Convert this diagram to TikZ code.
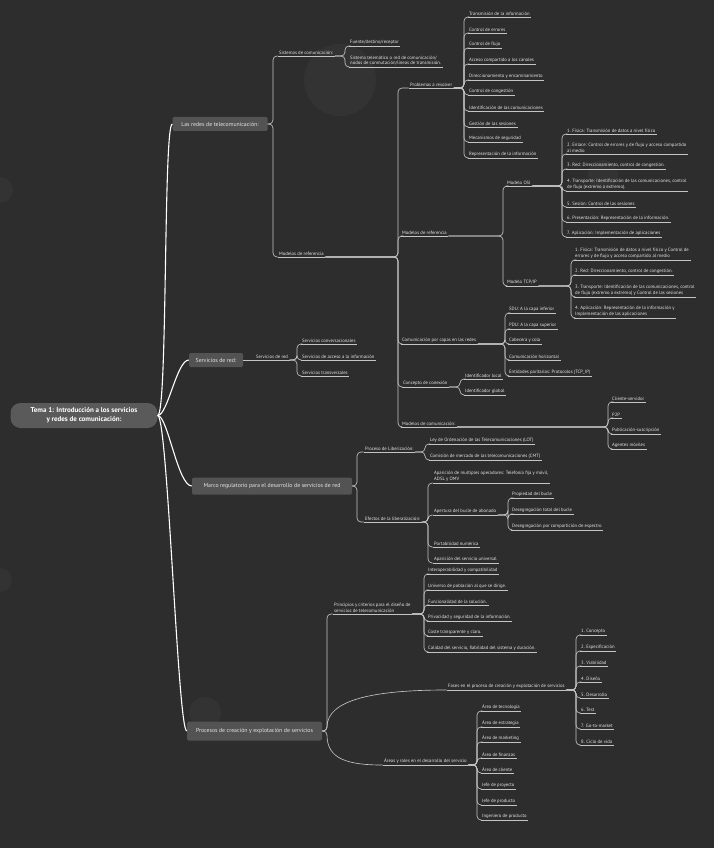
\documentclass[tikz,border=0pt]{standalone}
\usepackage{fontspec}
\setmainfont{PT Sans}
\definecolor{bg}{HTML}{2D2D2D}
\definecolor{deco}{HTML}{333333}
\definecolor{ln}{HTML}{C4C4C4}
\definecolor{txt}{HTML}{E6E6E6}
\definecolor{topicfill}{HTML}{535353}
\definecolor{rootfill}{HTML}{5A5A5A}
\newcommand\cnx[3]{\draw[conn] (#1) -- (#1 -| #2) |- (#3.south west);}
\begin{document}
\begin{tikzpicture}[x=1pt,y=-1pt,
 lf/.style={anchor=south west, inner xsep=1.5pt, inner ysep=1.3pt, text=txt, font=\fontsize{4.7}{5.6}\selectfont, align=left},
 conn/.style={draw=ln, line width=0.65pt, rounded corners=4pt},
 ul/.style={draw=ln, line width=0.65pt},
 topic/.style={fill=topicfill, text=txt, font=\fontsize{5.8}{7}\selectfont, rounded corners=1.5pt, inner sep=0pt, anchor=center},
 mainln/.style={draw=white, line width=1.1pt},
]
\fill[bg] (0,0) rectangle (714,848);
\useasboundingbox (0,0) rectangle (714,848);
% decorative circles
\fill[deco] (340,80) circle (36);
\fill[deco] (0,190) circle (13);
\fill[deco] (205,713) circle (16);
\fill[deco] (0,580) circle (12);
\fill[deco] (603,175) circle (15);

% vertical guides
\coordinate (vA) at (273,0);
\coordinate (va1) at (345,0);
\coordinate (va2) at (398,0);
\coordinate (vb1) at (464,0);
\coordinate (vb2) at (503,0);
\coordinate (vc1) at (562,0);
\coordinate (vc2) at (571,0);
\coordinate (vb3) at (505,0);
\coordinate (vb4) at (460,0);
\coordinate (vb5) at (608,0);
\coordinate (vs0) at (297,0);
\coordinate (vC) at (357,0);
\coordinate (vm1) at (425,0);
\coordinate (vm2) at (428,0);
\coordinate (vme2) at (508,0);
\coordinate (vD) at (327,0);
\coordinate (vq1) at (424,0);
\coordinate (vq2) at (576,0);
\coordinate (vq3) at (477,0);

% root and topics
\node[fill=rootfill, rounded corners=10pt, minimum width=147pt, minimum height=25pt, inner sep=0pt, text=white, font=\fontsize{7}{9}\selectfont\bfseries, align=center] (root) at (84,415.5) {Tema 1: Introducción a los servicios\\y redes de comunicación:};
\node[topic, minimum width=95pt, minimum height=14pt] (tA) at (220,124) {Las redes de telecomunicación:};
\node[topic, minimum width=54pt, minimum height=14pt] (tB) at (216,360) {Servicios de red:};
\node[topic, minimum width=160pt, minimum height=17pt] (tC) at (272,486) {Marco regulatorio para el desarrollo de servicios de red};
\node[topic, minimum width=135pt, minimum height=19pt] (tD) at (254.5,731) {Procesos de creación y explotación de servicios};

\draw[mainln] (root.east) .. controls +(10,0) and +(-9,0) .. (tA.west);
\draw[mainln] (root.east) .. controls +(10,0) and +(-12,0) .. (tB.west);
\draw[mainln] (root.east) .. controls +(10,0) and +(-14,0) .. (tC.west);
\draw[mainln] (root.east) .. controls +(10,0) and +(-9,0) .. (tD.west);

% ---- Las redes de telecomunicación
\node[lf] (a1) at (277.5,56) {Sistemas de comunicación:};
\node[lf] (a2) at (277.5,257) {Modelos de referencia};
\node[lf] (a1a) at (348.5,46) {Fuente/destino/receptor};
\node[lf] (a1b) at (348.5,67) {Sistema telemático o red de comunicación/\\nodos de conmutación/líneas de transmisión.};
\node[lf] (b1) at (408.5,88) {Problemas a resolver};
\node[lf] (b2) at (400.5,236) {Modelos de referencia};
\node[lf] (b3) at (400.5,344) {Comunicación por capas en las redes};
\node[lf] (b4) at (401.5,387) {Concepto de conexión};
\node[lf] (b5) at (400.5,427) {Modelos de comunicación:};

\node[lf] (p1) at (467.5,17) {Transmisión de la información};
\node[lf] (p2) at (467.5,33) {Control de errores};
\node[lf] (p3) at (467.5,48) {Control de flujo};
\node[lf] (p4) at (467.5,64) {Acceso compartido a los canales};
\node[lf] (p5) at (467.5,80) {Direccionamiento y encaminamiento};
\node[lf] (p6) at (467.5,95) {Control de congestión};
\node[lf] (p7) at (467.5,111) {Identificación de las comunicaciones};
\node[lf] (p8) at (467.5,127) {Gestión de las sesiones};
\node[lf] (p9) at (467.5,142) {Mecanismos de seguridad};
\node[lf] (p10) at (467.5,158) {Representación de la información};

\node[lf] (c1) at (505.5,186) {Modelo OSI};
\node[lf] (c2) at (505.5,286) {Modelo TCP/IP};
\node[lf] (o1) at (565.5,134) {1. Física: Transmisión de datos a nivel físico};
\node[lf] (o2) at (565.5,154) {2. Enlace: Control de errores y de flujo y acceso compartido\\al medio};
\node[lf] (o3) at (565.5,169) {3. Red: Direccionamiento, control de congestión.};
\node[lf] (o4) at (565.5,191) {4. Transporte: Identificación de las comunicaciones, control\\de flujo (extremo a extremo).};
\node[lf] (o5) at (565.5,207) {5. Sesión: Control de las sesiones};
\node[lf] (o6) at (565.5,222) {6. Presentación: Representación de la información.};
\node[lf] (o7) at (565.5,237) {7. Aplicación: Implementación de aplicaciones};
\node[lf] (tc1) at (573.5,260) {1. Física: Transmisión de datos a nivel físico y Control de\\errores y de flujo y acceso compartido al medio};
\node[lf] (tc2) at (573.5,275) {2. Red: Direccionamiento, control de congestión.};
\node[lf] (tc3) at (573.5,297) {3. Transporte: Identificación de las comunicaciones, control\\de flujo (extremo a extremo) y Control de las sesiones};
\node[lf] (tc4) at (573.5,318) {4. Aplicación: Representación de la información y\\Implementación de las aplicaciones};

\node[lf] (cp1) at (507.5,313) {SDU: A la capa inferior};
\node[lf] (cp2) at (507.5,329) {PDU: A la capa superior};
\node[lf] (cp3) at (507.5,344) {Cabecera y cola};
\node[lf] (cp4) at (507.5,360) {Comunicación horizontal};
\node[lf] (cp5) at (507.5,376) {Entidades paritarias: Protocolos (TCP\_IP)};

\node[lf] (ci1) at (463.5,379) {Identificador local};
\node[lf] (ci2) at (463.5,395) {Identificador global};

\node[lf] (mc1) at (610.5,402) {Cliente-servidor};
\node[lf] (mc2) at (610.5,418) {P2P};
\node[lf] (mc3) at (610.5,434) {Publicación-suscripción};
\node[lf] (mc4) at (610.5,449) {Agentes móviles};

% ---- Servicios de red
\node[lf] (s0) at (254.5,360) {Servicios de red};
\node[lf] (s1) at (300.5,344) {Servicios conversacionales};
\node[lf] (s2) at (300.5,360) {Servicios de acceso a la información};
\node[lf] (s3) at (300.5,376) {Servicios transversales};

% ---- Marco regulatorio
\node[lf] (m1) at (363.5,452) {Proceso de Liberización:};
\node[lf] (m2) at (363.5,522) {Efectos de la liberalización:};
\node[lf] (ml1) at (428.5,444) {Ley de Ordenación de las Telecomunicaciones (LOT)};
\node[lf] (ml2) at (428.5,460) {Comisión de mercado de las telecomunicaciones (CMT)};
\node[lf] (me1) at (432.5,483) {Aparición de multiples operadores: Telefonía fija y móvil,\\ADSL y OMV};
\node[lf] (me2) at (432.5,515) {Apertura del bucle de abonado};
\node[lf] (me3) at (432.5,547) {Portabilidad numérica};
\node[lf] (me4) at (432.5,563) {Aparición del servicio universal};
\node[lf] (ma1) at (510.5,498) {Propiedad del bucle};
\node[lf] (ma2) at (510.5,514) {Desegregación total del bucle};
\node[lf] (ma3) at (510.5,530) {Desegregación por compartición de espectro};

% ---- Procesos
\node[lf] (q1) at (332.5,614) {Principios y criterios para el diseño de\\servicios de telecomunicación};
\node[lf] (q2) at (446.5,690) {Fases en el proceso de creación y explotación de servicios};
\node[lf] (q3) at (382.5,765) {Áreas y roles en el desarrollo del servicio};
\node[lf] (qp1) at (426.5,574) {Interoperabilidad y compatibilidad};
\node[lf] (qp2) at (426.5,590) {Universo de población al que se dirige.};
\node[lf] (qp3) at (426.5,605) {Funcionalidad de la solución.};
\node[lf] (qp4) at (426.5,621) {Privacidad y seguridad de la información.};
\node[lf] (qp5) at (426.5,636) {Coste transparente y claro.};
\node[lf] (qp6) at (426.5,652) {Calidad del servicio, fiabilidad del sistema y duración.};
\node[lf] (qf1) at (579.5,635) {1. Concepto};
\node[lf] (qf2) at (579.5,651) {2. Especificación};
\node[lf] (qf3) at (579.5,666) {3. Viabilidad};
\node[lf] (qf4) at (579.5,682) {4. Diseño};
\node[lf] (qf5) at (579.5,698) {5. Desarrollo};
\node[lf] (qf6) at (579.5,713) {6. Test};
\node[lf] (qf7) at (579.5,729) {7. Go-to-market};
\node[lf] (qf8) at (579.5,745) {8. Ciclo de vida};
\node[lf] (qa1) at (480.5,711) {Área de tecnología};
\node[lf] (qa2) at (480.5,727) {Área de estrategia};
\node[lf] (qa3) at (480.5,742) {Área de marketing};
\node[lf] (qa4) at (480.5,758) {Área de finanzas};
\node[lf] (qa5) at (480.5,773) {Área de cliente};
\node[lf] (qa6) at (480.5,789) {Jefe de proyecto};
\node[lf] (qa7) at (480.5,805) {Jefe de producto};
\node[lf] (qa8) at (480.5,820) {Ingeniero de producto};

% underlines
\foreach \n in {a1,a2,a1a,a1b,b1,b2,b3,b4,b5,p1,p2,p3,p4,p5,p6,p7,p8,p9,p10,c1,c2,o1,o2,o3,o4,o5,o6,o7,tc1,tc2,tc3,tc4,cp1,cp2,cp3,cp4,cp5,ci1,ci2,mc1,mc2,mc3,mc4,s0,s1,s2,s3,m1,m2,ml1,ml2,me1,me2,me3,me4,ma1,ma2,ma3,q1,q2,q3,qp1,qp2,qp3,qp4,qp5,qp6,qf1,qf2,qf3,qf4,qf5,qf6,qf7,qf8,qa1,qa2,qa3,qa4,qa5,qa6,qa7,qa8}
  \draw[ul] (\n.south west) -- (\n.south east);

% connectors
\foreach \c in {a1,a2} { \cnx{tA.east}{vA}{\c} }
\foreach \c in {a1a,a1b} { \cnx{a1.south east}{va1}{\c} }
\foreach \c in {b1,b2,b3,b4,b5} { \cnx{a2.south east}{va2}{\c} }
\foreach \c in {p1,p2,p3,p4,p5,p6,p7,p8,p9,p10} { \cnx{b1.south east}{vb1}{\c} }
\foreach \c in {c1,c2} { \cnx{b2.south east}{vb2}{\c} }
\foreach \c in {o1,o2,o3,o4,o5,o6,o7} { \cnx{c1.south east}{vc1}{\c} }
\foreach \c in {tc1,tc2,tc3,tc4} { \cnx{c2.south east}{vc2}{\c} }
\foreach \c in {cp1,cp2,cp3,cp4,cp5} { \cnx{b3.south east}{vb3}{\c} }
\foreach \c in {ci1,ci2} { \cnx{b4.south east}{vb4}{\c} }
\foreach \c in {mc1,mc2,mc3,mc4} { \cnx{b5.south east}{vb5}{\c} }
\draw[conn] (tB.east) -- (s0.south west);
\foreach \c in {s1,s2,s3} { \cnx{s0.south east}{vs0}{\c} }
\foreach \c in {m1,m2} { \cnx{tC.east}{vC}{\c} }
\foreach \c in {ml1,ml2} { \cnx{m1.south east}{vm1}{\c} }
\foreach \c in {me1,me2,me3,me4} { \cnx{m2.south east}{vm2}{\c} }
\foreach \c in {ma1,ma2,ma3} { \cnx{me2.south east}{vme2}{\c} }
\cnx{tD.east}{vD}{q1}
\draw[conn] (tD.east) -- (tD.east -| vD) .. controls +(0,-32) and +(-70,0) .. (q2.south west);
\draw[conn] (tD.east) -- (tD.east -| vD) .. controls +(0,28) and +(-35,0) .. (q3.south west);
\foreach \c in {qp1,qp2,qp3,qp4,qp5,qp6} { \cnx{q1.south east}{vq1}{\c} }
\foreach \c in {qf1,qf2,qf3,qf4,qf5,qf6,qf7,qf8} { \cnx{q2.south east}{vq2}{\c} }
\foreach \c in {qa1,qa2,qa3,qa4,qa5,qa6,qa7,qa8} { \cnx{q3.south east}{vq3}{\c} }
\end{tikzpicture}
\end{document}
